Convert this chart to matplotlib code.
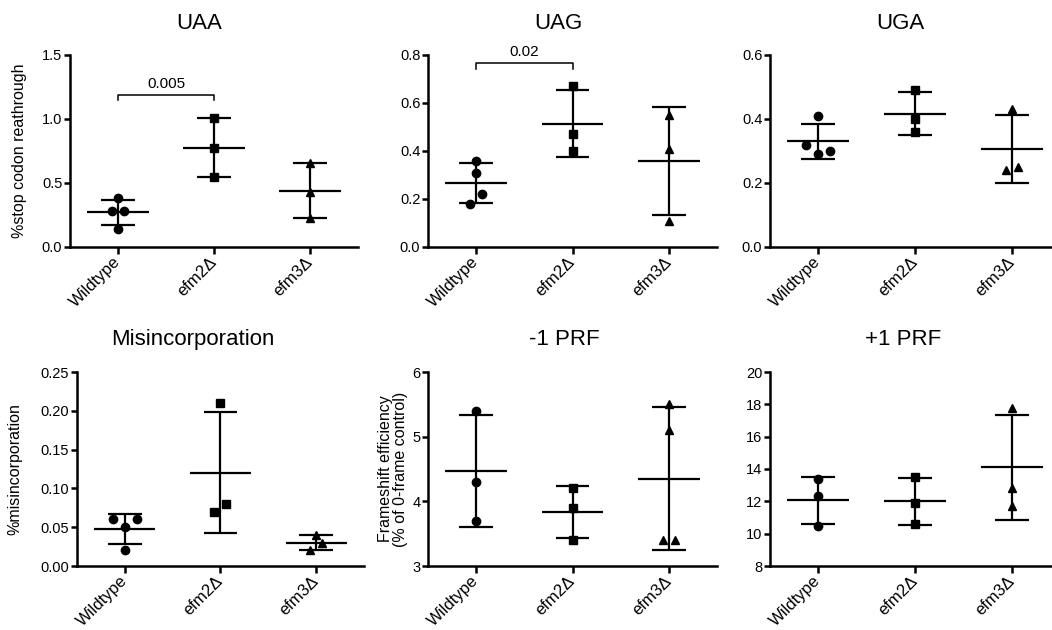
import matplotlib
matplotlib.use('Agg')
import matplotlib.pyplot as plt
import matplotlib.transforms as mtrans
import numpy as np

plt.rcParams['font.family'] = ['Liberation Sans', 'DejaVu Sans']

# groups / markers
groups = ['Wildtype', 'efm2Δ', 'efm3Δ']
markers = ['o', 's', '^']
msizes = [6.0, 5.6, 6.0]

titles = ['UAA', 'UAG', 'UGA', 'Misincorporation', '-1 PRF', '+1 PRF']
ylabels = ['%stop codon reathrough', '', '', '%misincorporation',
           'Frameshift efficiency\n(% of 0-frame control)', '']

# replicate values (one list per group)
uaa = [[0.38, 0.28, 0.28, 0.14], [1.01, 0.77, 0.55], [0.66, 0.43, 0.23]]
uag = [[0.36, 0.31, 0.18, 0.22], [0.67, 0.47, 0.40], [0.55, 0.41, 0.11]]
uga = [[0.41, 0.32, 0.29, 0.30], [0.49, 0.40, 0.36], [0.43, 0.24, 0.25]]
misinc = [[0.06, 0.05, 0.06, 0.02], [0.21, 0.07, 0.08], [0.02, 0.04, 0.03]]
prf_minus = [[5.4, 4.3, 3.7], [4.2, 3.9, 3.4], [5.5, 5.1, 3.4, 3.4]]
prf_plus = [[13.4, 12.3, 10.5], [13.5, 11.9, 10.6], [17.8, 12.8, 11.7]]
panels = [uaa, uag, uga, misinc, prf_minus, prf_plus]

yticks = [[0, 0.5, 1.0, 1.5],
          [0, 0.2, 0.4, 0.6, 0.8],
          [0, 0.2, 0.4, 0.6],
          [0, 0.05, 0.10, 0.15, 0.20, 0.25],
          [3, 4, 5, 6],
          [8, 10, 12, 14, 16, 18, 20]]
ytick_fmt = ['%.1f', '%.1f', '%.1f', '%.2f', '%d', '%d']

# significance brackets: (panel, group a, group b, p label)
sig = [(0, 0, 1, '0.005'), (1, 0, 1, '0.02')]

# ---- layout (pixels of a 1052x630 canvas) ----
W, H = 1052, 630


def px_rect(left, top, right, bottom):
    return [left / W, 1 - bottom / H, (right - left) / W, (bottom - top) / H]


rects = [px_rect(70, 55, 358, 247), px_rect(428, 55, 717, 247), px_rect(770, 55, 1060, 247),
         px_rect(77, 372, 364, 566), px_rect(428, 372, 717, 566), px_rect(770, 372, 1060, 566)]
title_x = [0.45, 0.45, 0.45, 0.405, 0.47, 0.46]
ylabel_x = [-0.150, 0, 0, -0.192, -0.069, 0]


def row_offsets(ax, vals, step_px=12, gap_px=11):
    """spread points that sit at nearly the same height (GraphPad-like)"""
    vals = np.asarray(vals, float)
    ypx = ax.transData.transform(np.column_stack([np.zeros(len(vals)), vals]))[:, 1]
    x0 = ax.transData.transform([[0, 0], [1, 0]])[:, 0]
    xscale = x0[1] - x0[0]
    order = np.argsort(ypx, kind='stable')
    rows = [[order[0]]]
    for a, b in zip(order[:-1], order[1:]):
        if ypx[b] - ypx[a] < gap_px:
            rows[-1].append(b)
        else:
            rows.append([b])
    off = np.zeros(len(vals))
    for row in rows:
        row = sorted(row)
        n = len(row)
        # tighter spacing when the row is already spread out vertically
        span = ypx[row].max() - ypx[row].min()
        step = step_px / 2 if (n > 2 and span > gap_px) else step_px
        for k, i in enumerate(row):
            off[i] = (k - (n - 1) / 2) * step / xscale
    return off


fig = plt.figure(figsize=(10.52, 6.3), dpi=100)
shift = mtrans.ScaledTranslation(4 / 100, -3 / 100, fig.dpi_scale_trans)

axes = []
for p, data in enumerate(panels):
    ax = fig.add_axes(rects[p])
    axes.append(ax)
    ax.set_xlim(-0.5, 2.5)
    ax.set_ylim(yticks[p][0], yticks[p][-1])

    for gi, vals in enumerate(data):
        vals = np.asarray(vals, float)
        m, sd = vals.mean(), vals.std(ddof=1)
        ax.hlines(m, gi - 0.32, gi + 0.32, color='k', lw=1.6)
        ax.vlines(gi, m - sd, m + sd, color='k', lw=1.6)
        ax.hlines([m - sd, m + sd], gi - 0.175, gi + 0.175, color='k', lw=1.6)
        off = row_offsets(ax, vals)
        ax.plot(gi + off, vals, ls='none', marker=markers[gi], ms=msizes[gi],
                color='k', clip_on=False, zorder=3)

    ax.set_xticks(range(len(groups)))
    ax.set_xticklabels(groups, rotation=45, ha='right', va='center',
                       rotation_mode='anchor', fontsize=12)
    for lbl in ax.get_xticklabels():
        lbl.set_transform(lbl.get_transform() + shift)
    ax.set_yticks(yticks[p])
    ax.set_yticklabels([ytick_fmt[p] % t for t in yticks[p]], fontsize=10.5)

    for s in ['top', 'right']:
        ax.spines[s].set_visible(False)
    for s in ['left', 'bottom']:
        ax.spines[s].set_linewidth(1.8)
    ax.tick_params(axis='y', direction='out', length=4.5, width=1.8, pad=1)
    ax.tick_params(axis='x', direction='out', length=5, width=1.8, pad=4)

    ax.text(title_x[p], 1 + 32 / 193, titles[p], transform=ax.transAxes,
            ha='center', va='center', fontsize=16)
    if ylabels[p]:
        ax.set_ylabel(ylabels[p], fontsize=11.5, linespacing=1.0)
        ax.yaxis.set_label_coords(ylabel_x[p], 0.5)

# significance brackets
for p, a, b, lab in sig:
    ax = axes[p]
    lo, hi = yticks[p][0], yticks[p][-1]
    rng = hi - lo
    top = 0
    for g in (a, b):
        v = np.asarray(panels[p][g], float)
        top = max(top, v.max(), v.mean() + v.std(ddof=1))
    yb = top + 0.12 * rng
    ax.plot([a, a, b, b], [yb - 0.028 * rng, yb, yb, yb - 0.028 * rng],
            color='k', lw=1.1, clip_on=False)
    ax.text((a + b) / 2, yb + 0.035 * rng, lab, ha='center', va='baseline',
            fontsize=11)

fig.savefig('out.png', dpi=100)
